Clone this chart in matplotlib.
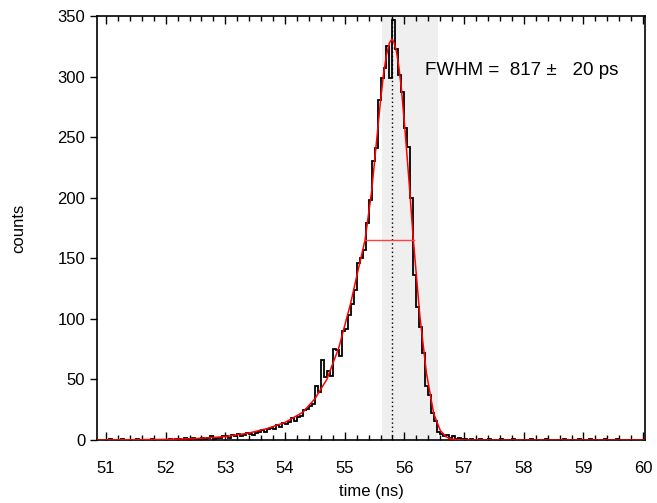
import numpy as np
import matplotlib
matplotlib.use("Agg")
import matplotlib.pyplot as plt
from matplotlib.ticker import MultipleLocator

plt.rcParams['font.family'] = ['Liberation Sans', 'DejaVu Sans']

# histogram: bins of 0.05 ns starting at 50.85 ns
bin_start = 50.85
bin_width = 0.05
counts = (
    [0, 0, 0]
    + [0, 1, 0, 0, 0, 1, 0, 0, 0, 0, 1, 0, 0, 0, 0, 1, 0, 0, 0, 0]          # 51-52
    + [0, 1, 0, 1, 1, 0, 2, 1, 1, 2, 1, 0, 2, 1, 2, 3, 1, 2, 2, 3]          # 52-53
    + [3, 2, 4, 3, 5, 3, 4, 6, 5, 4, 6, 7, 8, 7, 9, 10, 9, 12, 11, 14]     # 53-54
    + [13, 15, 18, 16, 19, 20, 25, 26, 28, 30]                             # 54-54.5
    + [45, 40, 66, 52, 57, 53, 75, 74, 69, 90]                             # 54.5-55
    + [92, 103, 112, 124, 146, 150, 157, 179, 198, 230]                    # 55-55.5
    + [241, 281, 299, 307, 325, 299, 347, 323, 301, 287]                   # 55.5-56
    + [258, 242, 200, 136, 110, 93, 72, 45, 37, 22]                        # 56-56.5
    + [16, 7, 5, 3, 4, 2, 3, 1, 2, 1]                                      # 56.5-57
    + [1, 0, 1, 0, 0, 1, 0, 0, 1, 0, 0, 0, 1, 0, 0, 0, 1, 0, 0, 0]          # 57-58
    + [0, 0, 1, 0, 0, 0, 0, 1, 0, 0, 0, 0, 0, 1, 0, 0, 0, 0, 1, 0]          # 58-59
    + [0, 0, 1, 0, 0, 0, 0, 1, 0, 0, 0, 1, 0, 0, 0, 0, 0, 0, 0, 0]          # 59-60
    + [0]
)

# fit curve samples (time, counts)
fit_t = [50.85, 51.0, 52.0, 52.5, 53.0, 53.4, 53.7, 54.0, 54.3, 54.5, 54.7, 54.9,
         55.1, 55.2, 55.34, 55.45, 55.53, 55.6, 55.65, 55.7, 55.75, 55.79, 55.83,
         55.87, 55.91, 55.95, 56.01, 56.08, 56.15, 56.26, 56.37, 56.49, 56.6,
         56.7, 56.82, 57.0, 60.03]
fit_c = [0.05, 0.1, 0.5, 1.2, 2.8, 5.8, 9.5, 14.5, 23, 34, 50, 76,
         113, 135, 165, 205, 245, 280, 302, 318, 328, 331, 328,
         320, 307, 290, 256, 212, 165, 102, 55, 22, 8,
         2.5, 0.5, 0.0, 0.0]

peak_t = 55.79
fwhm_left, fwhm_right, half_max = 55.34, 56.157, 165
band_left, band_right = 55.626, 56.565
label = "FWHM =  817 \u00b1   20 ps"

fig = plt.figure(figsize=(6.57, 5.03), dpi=100)
ax = fig.add_axes([0.1476, 0.1252, 0.8341, 0.8428])

edges = bin_start + bin_width * np.arange(len(counts) + 1)
ax.axvspan(band_left, band_right, color='#efefef', zorder=0, lw=0)
ax.axvline(peak_t, color='black', ls=(0, (1, 2)), lw=1.0, zorder=1)
ax.stairs(counts, edges, color='black', lw=1.3, zorder=2)
ax.plot(fit_t, fit_c, color='red', lw=1.1, zorder=3)
ax.plot([fwhm_left, fwhm_right], [half_max, half_max], color='#ff4040', lw=1.0, zorder=3)
ax.text(56.35, 305, label, fontsize=13.5, va='center', ha='left')

ax.set_xlim(50.85, 60.03)
ax.set_ylim(0, 350)
ax.xaxis.set_major_locator(MultipleLocator(1))
ax.xaxis.set_minor_locator(MultipleLocator(0.2))
ax.yaxis.set_major_locator(MultipleLocator(50))
ax.tick_params(axis='x', which='both', direction='in', top=True, bottom=True, labelsize=12, pad=15)
ax.tick_params(axis='x', which='major', length=6, width=1.0)
ax.tick_params(axis='x', which='minor', length=3.5, width=1.0)
ax.tick_params(axis='y', which='major', direction='out', length=5, width=1.0, labelsize=12, left=True, right=False)
for s in ax.spines.values():
    s.set_linewidth(1.2)

ax.set_xlabel('time (ns)', fontsize=12, labelpad=6)
ax.set_ylabel('counts', fontsize=12, labelpad=22)

fig.savefig('out.png', dpi=100)
